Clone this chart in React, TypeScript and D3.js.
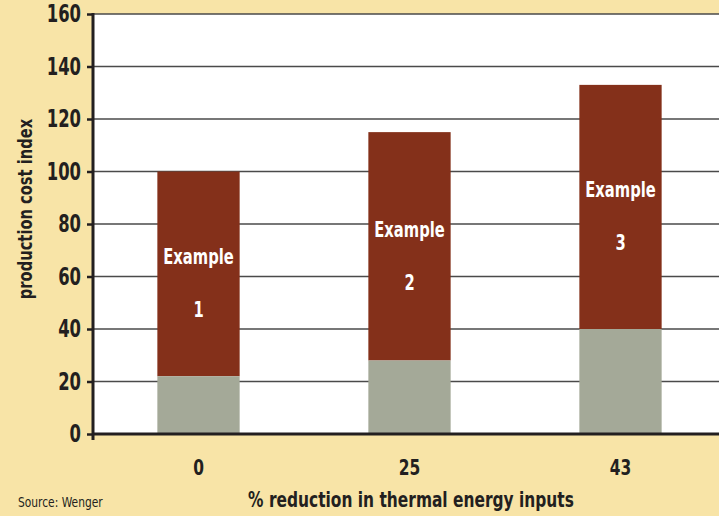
import { useEffect, useRef } from 'react';
import * as d3 from 'd3';

const categories = ['0', '25', '43'];
const baseValues = [22, 28, 40];
const totalValues = [100, 115, 133];
const barLabels = ['1', '2', '3'];
const yTicks = [0, 20, 40, 60, 80, 100, 120, 140, 160];

const FONT = '"DejaVu Sans Condensed", "DejaVu Sans", sans-serif';
const INK = '#231f20';

type Sel = d3.Selection<SVGGElement, unknown, null, undefined>;

// condensed text: the reference uses a narrow face, so squeeze horizontally
function label(
  parent: Sel,
  x: number,
  y: number,
  text: string,
  opts: { size: number; anchor?: string; weight?: string; fill?: string; sx?: number; rotate?: number },
) {
  const { size, anchor = 'middle', weight = 'bold', fill = INK, sx = 0.8, rotate = 0 } = opts;
  parent
    .append('text')
    .attr('transform', `translate(${x},${y}) rotate(${rotate}) scale(${sx},1)`)
    .attr('text-anchor', anchor)
    .attr('dy', '0.35em')
    .attr('font-family', FONT)
    .attr('font-weight', weight)
    .attr('font-size', size)
    .attr('fill', fill)
    .text(text);
}

export default function App() {
  const svgRef = useRef<SVGSVGElement>(null);

  useEffect(() => {
    document.body.style.margin = '0';
    const svg = d3.select(svgRef.current);
    if (!svg.node()) return;
    svg.selectAll('*').remove();

    const width = 719;
    const height = 516;
    const margin = { top: 14, left: 93, bottom: 434 };

    svg.attr('viewBox', `0 0 ${width} ${height}`);
    const root = svg.append('g') as unknown as Sel;

    root.append('rect').attr('width', width).attr('height', height).attr('fill', '#f8e4a7');

    const y = d3.scaleLinear().domain([0, 160]).range([margin.bottom, margin.top]);
    const x = d3
      .scaleBand<string>()
      .domain(categories)
      .range([margin.left, 726])
      .paddingInner(0.61)
      .paddingOuter(0.305);

    root
      .append('rect')
      .attr('x', margin.left)
      .attr('y', margin.top)
      .attr('width', width - margin.left)
      .attr('height', margin.bottom - margin.top)
      .attr('fill', '#ffffff');

    // gridlines
    root
      .append('g')
      .selectAll('line')
      .data(yTicks.filter((t) => t > 0))
      .join('line')
      .attr('x1', margin.left)
      .attr('x2', width)
      .attr('y1', (d) => y(d))
      .attr('y2', (d) => y(d))
      .attr('stroke', '#4a4a4a')
      .attr('stroke-width', 1.3);

    const g = root.append('g');
    g.selectAll('rect.top')
      .data(categories)
      .join('rect')
      .attr('class', 'top')
      .attr('x', (d) => x(d)!)
      .attr('width', x.bandwidth())
      .attr('y', (_, i) => y(totalValues[i]))
      .attr('height', (_, i) => y(baseValues[i]) - y(totalValues[i]))
      .attr('fill', '#84301a');

    g.selectAll('rect.base')
      .data(categories)
      .join('rect')
      .attr('class', 'base')
      .attr('x', (d) => x(d)!)
      .attr('width', x.bandwidth())
      .attr('y', (_, i) => y(baseValues[i]))
      .attr('height', (_, i) => y(0) - y(baseValues[i]))
      .attr('fill', '#a4a998');

    categories.forEach((c, i) => {
      const cx = x(c)! + x.bandwidth() / 2;
      const mid = (y(baseValues[i]) + y(totalValues[i])) / 2;
      label(g, cx, mid - 17, 'Example', { size: 21, fill: '#ffffff', sx: 0.78 });
      label(g, cx, mid + 36, barLabels[i], { size: 21, fill: '#ffffff', sx: 0.78 });
    });

    // y axis ticks
    const yAxis = root
      .append('g')
      .attr('transform', `translate(${margin.left},0)`)
      .call(d3.axisLeft(y).tickValues(yTicks).tickSize(6).tickFormat(() => ''));
    yAxis.select('.domain').remove();
    yAxis.selectAll('line').attr('stroke', INK).attr('stroke-width', 2.5);
    yTicks.forEach((t) => label(root, 81, y(t), String(t), { size: 24, anchor: 'end', sx: 0.76 }));

    root
      .append('line')
      .attr('x1', margin.left)
      .attr('x2', margin.left)
      .attr('y1', margin.top - 1)
      .attr('y2', margin.bottom + 6)
      .attr('stroke', INK)
      .attr('stroke-width', 3);

    root
      .append('line')
      .attr('x1', margin.left)
      .attr('x2', width)
      .attr('y1', margin.bottom)
      .attr('y2', margin.bottom)
      .attr('stroke', INK)
      .attr('stroke-width', 3);

    categories.forEach((c) => label(root, x(c)! + x.bandwidth() / 2, 467, c, { size: 22, sx: 0.78 }));

    label(root, 411, 499, '% reduction in thermal energy inputs', { size: 22, sx: 0.78 });
    label(root, 25, 209, 'production cost index', { size: 19, rotate: -90, sx: 0.86 });
    label(root, 18, 502, 'Source: Wenger', { size: 14.5, anchor: 'start', weight: 'normal', sx: 0.82 });
  }, []);

  return <svg ref={svgRef} width={719} height={516} style={{ display: 'block' }} />;
}
